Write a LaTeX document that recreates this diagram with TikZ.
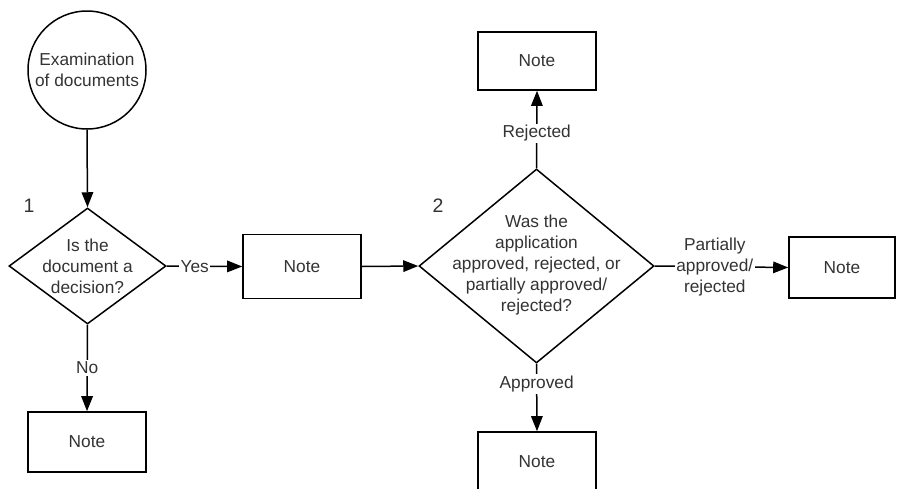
\documentclass[tikz,border=0pt]{standalone}
\usepackage{fontspec}
\setmainfont{Liberation Sans}
\usetikzlibrary{shapes.geometric,arrows.meta}
\definecolor{txt}{HTML}{333333}
\begin{document}
\begin{tikzpicture}[x=1pt,y=-1pt,
  every node/.style={font=\fontsize{17.3}{21}\selectfont, text=txt},
  notebox/.style={draw=black, line width=1.6pt, rectangle, minimum width=118pt, inner sep=0pt},
  decision/.style={draw=black, line width=1.5pt, diamond, inner sep=0pt},
  arr/.style={draw=black, line width=1.5pt, -{Triangle[length=15pt,width=11.5pt]}},
  lbl/.style={fill=white, inner sep=1.5pt, align=center},
  num/.style={font=\fontsize{19.5}{21}\selectfont, text=txt}]
\useasboundingbox (0,0) rectangle (897,488);
\fill[white] (0,0) rectangle (897,488);

% start circle
\node[draw=black, line width=1.5pt, circle, minimum size=118pt, inner sep=0pt, align=center] (circ) at (87,70) {Examination\\of documents};

% decision 1
\node[decision, minimum width=157pt, minimum height=116pt] (d1) at (87.5,266) {};
\node[align=center] (d1t) at (87.5,266) {Is the\\document a\\decision?};
\node[num] (n1) at (29,206) {1};

% decision 2
\node[decision, minimum width=235pt, minimum height=194pt] (d2) at (536.5,266) {};
\node[align=center] (d2t) at (536.5,265) {Was the\\application\\approved, rejected, or\\partially approved/\\rejected?};
\node[num] (n2) at (438,206) {2};

% notes
\node[notebox, minimum height=64pt] (b1) at (302,266.5) {Note};
\node[notebox, minimum height=60pt] (b0) at (87,442) {Note};
\node[notebox, minimum height=58pt] (bt) at (537,61) {Note};
\node[notebox, minimum height=60pt] (bb) at (537,462) {Note};
\node[notebox, minimum width=106pt, minimum height=61pt] (br) at (842,267.5) {Note};

% connectors
\draw[arr] (circ.south) -- (d1.north);
\draw[arr] (d1.east) -- node[lbl, pos=0.37] {Yes} (b1.west);
\draw[arr] (d1.south) -- node[lbl, pos=0.5] {No} (b0.north);
\draw[arr] (b1.east) -- (d2.west);
\draw[arr] (d2.north) -- node[lbl, pos=0.45] {Rejected} (bt.south);
\draw[arr] (d2.east) -- node[lbl, pos=0.45] {Partially\\approved/\\rejected} (br.west);
\draw[arr] (d2.south) -- node[lbl, pos=0.3] {Approved} (bb.north);
\end{tikzpicture}
\end{document}
